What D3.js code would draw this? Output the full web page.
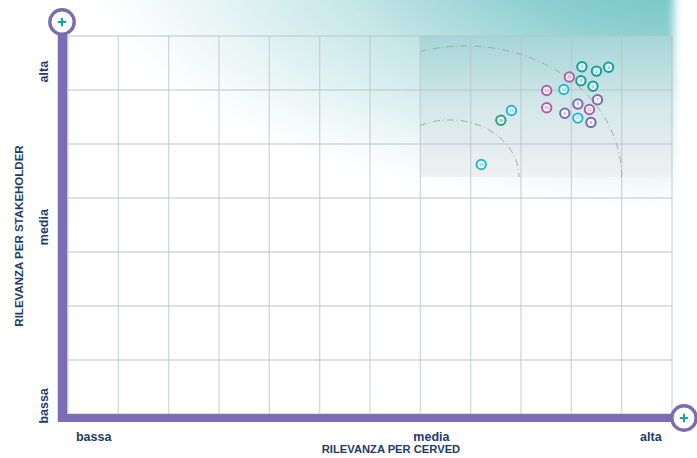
<!DOCTYPE html>
<html><head><meta charset="utf-8">
<script src="https://cdn.jsdelivr.net/npm/d3@7"></script>
<style>body{margin:0;background:#fff}svg{display:block}</style>
</head><body>
<script>
// ---- data ----
const topicIds = ["1","2","3","4","5","6","7","8","9","10","11","12","13","14","15","16","17","18"];
const cervedScore = [10.21,10.50,10.19,10.74,10.43,10.13,10.52,10.39,9.87,9.51,9.96,10.36,9.51,9.85,8.81,8.21,10.13,8.60];
const stakeholderScore = [6.43,6.35,6.17,6.42,6.07,5.74,5.82,5.40,5.57,5.67,6.24,5.64,5.99,6.01,5.62,4.62,5.48,5.44];
const topicGroup = ["teal","teal","teal","teal","teal","violet","violet","violet","violet","magenta","magenta","magenta","magenta","cyan","cyan","cyan","cyan","green"];
const xTickLabels = ["bassa","media","alta"];
const xTickPos = [0.51,7.22,11.58];
const yTickLabels = ["bassa","media","alta"];
const yTickPos = [0.15,3.46,6.34];
const xTitle = "RILEVANZA PER CERVED";
const yTitle = "RILEVANZA PER STAKEHOLDER";
const xGrid = d3.range(0,13);
const yGrid = d3.range(0,8);
const highlightX = [7,12];
const highlightY = [4.39,7];

const groupColor = {teal:"#13a09d", violet:"#7a69b4", magenta:"#b35daa", cyan:"#27b9d0", green:"#2b9f7b"};

const W=697,H=458;
const x = d3.scaleLinear().domain([0,12]).range([68,672]);
const y = d3.scaleLinear().domain([0,7]).range([414,36]);

const svg = d3.select("body").append("svg").attr("width",W).attr("height",H);
const defs = svg.append("defs");

const bg = defs.append("radialGradient").attr("id","bgGrad").attr("gradientUnits","userSpaceOnUse")
  .attr("cx",0).attr("cy",0).attr("r",1).attr("gradientTransform","translate(690,-40) scale(600,250)");
bg.append("stop").attr("offset",0).attr("stop-color","#68c2c4");
bg.append("stop").attr("offset",0.3).attr("stop-color","#8dcfd0");
bg.append("stop").attr("offset",0.6).attr("stop-color","#c8e7e8");
bg.append("stop").attr("offset",0.85).attr("stop-color","#ecf7f7");
bg.append("stop").attr("offset",1).attr("stop-color","#ffffff");

const hl = defs.append("linearGradient").attr("id","hlGrad").attr("x1",0).attr("y1",0).attr("x2",0).attr("y2",1);
hl.append("stop").attr("offset",0).attr("stop-color","#a6d6d8");
hl.append("stop").attr("offset",0.55).attr("stop-color","#d8e9eb");
hl.append("stop").attr("offset",1).attr("stop-color","#eff0f3");

const blur = defs.append("filter").attr("id","blur").attr("x","-20%").attr("y","-20%").attr("width","140%").attr("height","140%");
blur.append("feGaussianBlur").attr("stdDeviation",4);

defs.append("clipPath").attr("id","hlClip").append("rect")
  .attr("x",x(highlightX[0])).attr("y",y(highlightY[1]))
  .attr("width",x(highlightX[1])-x(highlightX[0])).attr("height",y(highlightY[0])-y(highlightY[1]));

// background glow
svg.append("rect").attr("x",-40).attr("y",-40).attr("width",x(12)+42).attr("height",300)
  .attr("fill","url(#bgGrad)").attr("filter","url(#blur)");

// highlight rect
svg.append("rect").attr("x",x(highlightX[0])).attr("y",y(highlightY[1]))
  .attr("width",x(highlightX[1])-x(highlightX[0])).attr("height",y(highlightY[0])-y(highlightY[1]))
  .attr("fill","url(#hlGrad)");

// grid
const grid = svg.append("g").attr("stroke","#b9c3c6").attr("stroke-opacity",0.65).attr("stroke-width",1.3);
grid.selectAll("line.v").data(xGrid).join("line").attr("x1",d=>x(d)).attr("x2",d=>x(d)).attr("y1",y(7)).attr("y2",y(0));
grid.selectAll("line.h").data(yGrid).join("line").attr("y1",d=>y(d)).attr("y2",d=>y(d)).attr("x1",x(0)).attr("x2",x(12));

// dash-dot arcs
const arcs = svg.append("g").attr("clip-path","url(#hlClip)").attr("fill","none").attr("stroke","#a4a8ab").attr("stroke-width",1)
  .attr("stroke-dasharray","7,3,1,3");
arcs.append("ellipse").attr("cx",x(7.90)).attr("cy",y(highlightY[0])).attr("rx",156).attr("ry",131);
arcs.append("ellipse").attr("cx",x(7.59)).attr("cy",y(highlightY[0])).attr("rx",69).attr("ry",57);

// bubbles
const pts = topicIds.map((id,i)=>({id, xv:cervedScore[i], yv:stakeholderScore[i], c:groupColor[topicGroup[i]]}));
const bub = svg.append("g").selectAll("g").data(pts).join("g").attr("transform",d=>`translate(${x(d.xv)},${y(d.yv)})`);
bub.append("circle").attr("r",4.7).attr("fill","#fff").attr("fill-opacity",0.55).attr("stroke",d=>d.c).attr("stroke-width",2);
bub.append("text").text(d=>d.id).attr("text-anchor","middle").attr("dy","0.35em")
  .attr("font-family","Liberation Sans, Arial, sans-serif").attr("font-size",4).attr("fill",d=>d.c);

// purple axes
const purple="#7c6cb4";
svg.append("line").attr("x1",62.5).attr("x2",62.5).attr("y1",30).attr("y2",422).attr("stroke",purple).attr("stroke-width",9.5);
svg.append("line").attr("x1",58).attr("x2",676).attr("y1",418).attr("y2",418).attr("stroke",purple).attr("stroke-width",8);
const ends=[[62,22],[684,418]];
const eg = svg.append("g").selectAll("g").data(ends).join("g").attr("transform",d=>`translate(${d[0]},${d[1]})`);
eg.append("circle").attr("r",12.2).attr("fill","#fff").attr("stroke",purple).attr("stroke-width",3.4);
eg.append("path").attr("d","M-4.2,0H4.2M0,-4.2V4.2").attr("stroke","#18a39f").attr("stroke-width",2);

// labels
const navy="#1d3c6c";
const font="Liberation Sans, Arial, sans-serif";
svg.append("g").selectAll("text").data(xTickLabels).join("text")
  .attr("x",(d,i)=>x(xTickPos[i])).attr("y",441).attr("text-anchor","middle")
  .attr("font-family",font).attr("font-weight","bold").attr("font-size",12.5).attr("fill",navy).text(d=>d);
svg.append("g").selectAll("text").data(yTickLabels).join("text")
  .attr("transform",(d,i)=>`translate(47.5,${y(yTickPos[i])}) rotate(-90)`).attr("text-anchor","middle")
  .attr("font-family",font).attr("font-weight","bold").attr("font-size",12.5).attr("fill",navy).text(d=>d);
svg.append("text").attr("x",391).attr("y",453).attr("text-anchor","middle")
  .attr("font-family",font).attr("font-weight","bold").attr("font-size",11.2).attr("fill",navy).text(xTitle);
svg.append("text").attr("transform","translate(23,236) rotate(-90)").attr("text-anchor","middle")
  .attr("font-family",font).attr("font-weight","bold").attr("font-size",11.5).attr("fill",navy).text(yTitle);
</script>
</body></html>
